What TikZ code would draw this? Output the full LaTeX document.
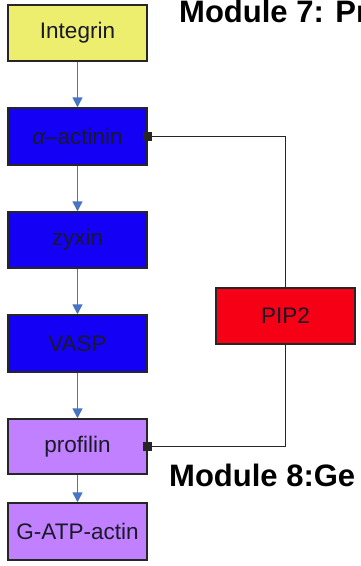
\documentclass[tikz,border=0pt]{standalone}
\usepackage{fontspec}
\setmainfont{Liberation Sans}
\usetikzlibrary{arrows.meta}
\definecolor{intyellow}{RGB}{238,238,110}
\definecolor{protblue}{RGB}{20,0,245}
\definecolor{pipred}{RGB}{245,0,20}
\definecolor{actpurple}{RGB}{192,128,255}
\definecolor{flowblue}{RGB}{72,116,196}
\definecolor{boxtext}{RGB}{25,25,40}
\begin{document}
\begin{tikzpicture}[x=1pt,y=-1pt,
  mol/.style={draw=black!85,line width=1.5pt,minimum width=139pt,minimum height=56pt,
    inner sep=0pt,text=boxtext,font=\fontsize{22.5}{24}\selectfont},
  flow/.style={draw=flowblue,line width=1.6pt,-{Triangle[width=10pt,length=10pt]}},
  inhib/.style={draw=black!85,line width=1.6pt,{Square[length=9pt,width=9pt]}-,shorten <=-4.5pt},
  title/.style={font=\bfseries\fontsize{31}{33}\selectfont,anchor=base west,inner sep=0pt}]
\useasboundingbox (0,0) rectangle (361,566);
\fill[white] (0,0) rectangle (361,566);

% signalling chain
\node[mol,fill=intyellow] (int) at (77.5,33) {Integrin};
\node[mol,fill=protblue,minimum height=57pt] (act) at (77.5,136.5) {{\itshape α}–actinin};
\node[mol,fill=protblue] (zyx) at (77.5,240) {zyxin};
\node[mol,fill=protblue,minimum height=57pt] (vasp) at (77.5,343.5) {VASP};
\node[mol,fill=actpurple,minimum height=55pt] (prof) at (77.5,446.5) {profilin};
\node[mol,fill=actpurple,minimum height=57pt] (gatp) at (77.5,531.5) {G-ATP-actin};

% regulator
\node[mol,fill=pipred] (pip) at (285.5,316) {PIP2};

\draw[flow] (int) -- (act);
\draw[flow] (act) -- (zyx);
\draw[flow] (zyx) -- (vasp);
\draw[flow] (vasp) -- (prof);
\draw[flow] (prof) -- (gatp);

\draw[inhib] (act.east) -| (pip.north);
\draw[inhib] (prof.east) -| (pip.south);

% module headings
\node[title] (m7) at (179,22.7) {Module 7: Pr};
\node[title] (m8) at (169,486) {Module 8:Ge};
\end{tikzpicture}
\end{document}
